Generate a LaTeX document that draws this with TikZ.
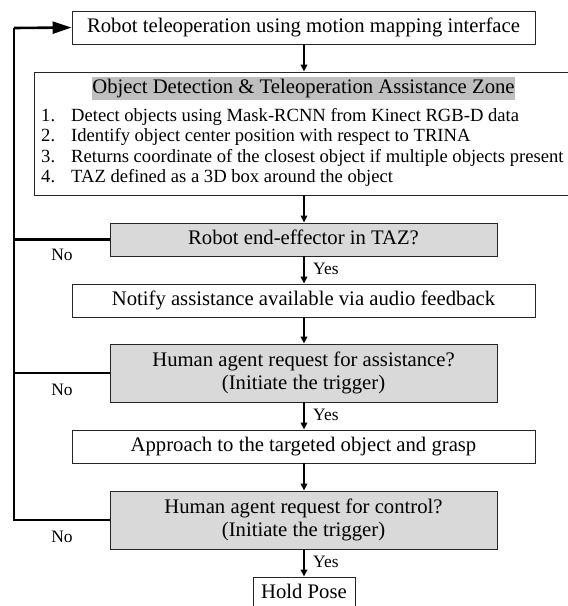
\documentclass[tikz,border=0pt]{standalone}
\usepackage{fontspec}
\setmainfont{Liberation Serif}
\usetikzlibrary{arrows.meta,calc}
\newcommand\mainsz{\fontsize{20.7}{23}\selectfont}
\newcommand\itemsz{\fontsize{18.6}{20.5}\selectfont}
\newcommand\lblsz{\fontsize{17.4}{20}\selectfont}
\begin{document}
\begin{tikzpicture}[x=1pt,y=-1pt,
  box/.style={draw=black!85, line width=0.9pt, inner sep=0pt, font=\mainsz, align=center, fill=white},
  graybox/.style={box, fill=gray!30},
  onel/.style={text height=14pt, text depth=4.5pt},
  arr/.style={line width=1.9pt, -{Triangle[length=7pt,width=6.5pt]}},
  fb/.style={line width=2.6pt},
  fbarr/.style={line width=2.6pt, -{Triangle[length=19pt,width=12pt]}},
  lbl/.style={font=\lblsz, inner sep=0pt},
  itm/.style={font=\itemsz, inner sep=0pt, anchor=base west}]
\useasboundingbox (0,0) rectangle (568,606);
\fill[white] (0,0) rectangle (568,606);

\node[box, onel, minimum width=463pt, minimum height=33pt] (top) at (303.5,27.5)
  {Robot teleoperation using motion mapping interface};

\begin{scope}
  \clip (0,0) rectangle (568,606);
  \node[box, minimum width=539pt, minimum height=123pt] (big) at (303.5,133.5) {};
  \node[box, onel, minimum width=102pt, minimum height=33pt] (hold) at (304,593.5) {Hold Pose};
\end{scope}

\node[fill=gray!50, inner xsep=0.5pt, inner ysep=0pt, minimum width=421pt, minimum height=23pt,
  text height=14.5pt, text depth=4.5pt, font=\mainsz] (ttl) at (303.5,88.5)
  {Object Detection \& Teleoperation Assistance Zone};

\node[itm] (n1) at (41,121) {1.};
\node[itm] (t1) at (71,121) {Detect objects using Mask-RCNN from Kinect RGB-D data};
\node[itm] (n2) at (41,141.5) {2.};
\node[itm] (t2) at (71,141.5) {Identify object center position with respect to TRINA};
\node[itm] (n3) at (41,162) {3.};
\node[itm] (t3) at (71,162) {Returns coordinate of the closest object if multiple objects present};
\node[itm] (n4) at (41,182.5) {4.};
\node[itm] (t4) at (71,182.5) {TAZ defined as a 3D box around the object};

\node[graybox, onel, minimum width=387pt, minimum height=33pt] (g1) at (303.5,239.5)
  {Robot end-effector in TAZ?};
\node[box, onel, minimum width=463pt, minimum height=33pt] (notify) at (303.5,300.5)
  {Notify assistance available via audio feedback};
\node[graybox, minimum width=387pt, minimum height=58pt] (g2) at (303.5,373)
  {Human agent request for assistance?\\(Initiate the trigger)};
\node[box, onel, minimum width=463pt, minimum height=33pt] (appr) at (303.5,446.5)
  {Approach to the targeted object and grasp};
\node[graybox, minimum width=387pt, minimum height=58pt] (g3) at (303.5,520)
  {Human agent request for control?\\(Initiate the trigger)};

\draw[arr] (top.south -| 304,0) -- (big.north -| 304,0);
\draw[arr] (big.south -| 304,0) -- (g1.north -| 304,0);
\draw[arr] (g1.south -| 304,0) -- (notify.north -| 304,0);
\draw[arr] (notify.south -| 304,0) -- (g2.north -| 304,0);
\draw[arr] (g2.south -| 304,0) -- (appr.north -| 304,0);
\draw[arr] (appr.south -| 304,0) -- (g3.north -| 304,0);
\draw[arr] (g3.south -| 304,0) -- (hold.north -| 304,0);

\coordinate (corner) at (14,28);
\draw[fb] (g3.west) -| (corner);
\draw[fbarr] (corner) -- (top.west);
\draw[fb] (g1.west) -- (g1.west -| corner);
\draw[fb] (g2.west) -- (g2.west -| corner);

\node[lbl] (no1) at (62,255) {No};
\node[lbl] (no2) at (62,390) {No};
\node[lbl] (no3) at (62,537) {No};
\node[lbl, anchor=west] (yes1) at (313,269) {Yes};
\node[lbl, anchor=west] (yes2) at (313,415) {Yes};
\node[lbl, anchor=west] (yes3) at (313,562) {Yes};
\end{tikzpicture}
\end{document}
